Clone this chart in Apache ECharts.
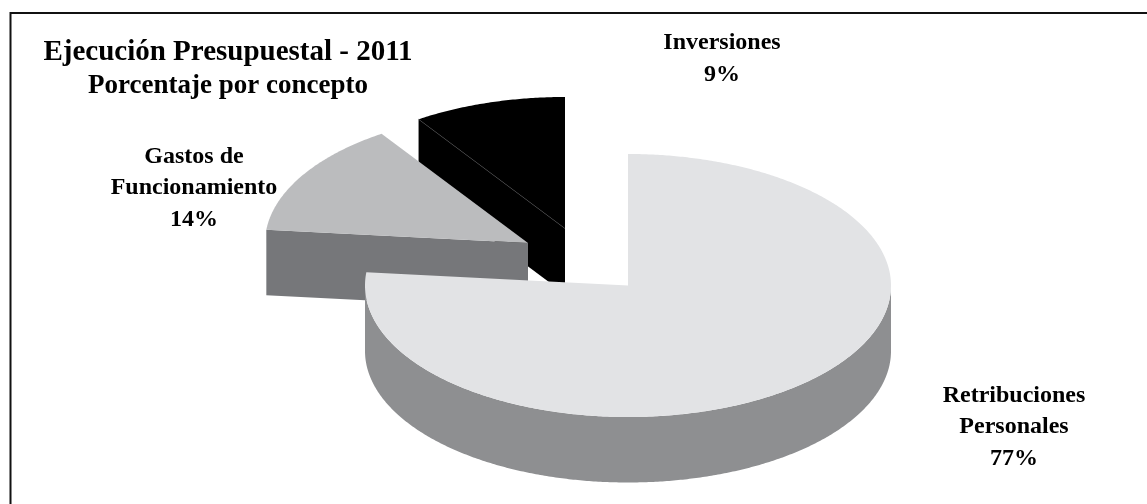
<!DOCTYPE html>
<html style="height: 100%">
<head>
<meta charset="utf-8">
<title>Ejecución Presupuestal - 2011</title>
<script src="https://cdn.jsdelivr.net/npm/echarts@6/dist/echarts.min.js"></script>
</head>
<body style="height: 100%; margin: 0; background: #fff">
<div id="container" style="width: 1147px; height: 504px"></div>
<script>
var chartTitle = 'Ejecución Presupuestal - 2011';
var chartSubtitle = 'Porcentaje por concepto';
var sliceNames = ['Retribuciones\nPersonales', 'Gastos de\nFuncionamiento', 'Inversiones'];
var sliceValues = [76.6, 14, 9.4];

// layout of the tilted pie, kept apart from the data
var rx = 263, ry = 131.5, depth = 65.5;
var apexes = [[628, 285.5], [528, 243], [565, 228.5]];
var labelPos = [[1014, 427], [194, 188], [722, 59]];
var topColors = ['#e2e3e5', '#bbbcbe', '#000000'];
var sideColors = ['#8e8f91', '#76777a', '#000000'];
var fontFamily = '"Liberation Serif", "Times New Roman", serif';

var total = sliceValues.reduce(function (a, b) { return a + b; }, 0);

function rimPoint(apex, deg, dy) {
    var t = deg * Math.PI / 180;
    return [apex[0] + rx * Math.sin(t), apex[1] - ry * Math.cos(t) + (dy || 0)];
}

function arcPoints(apex, from, to, dy) {
    var pts = [];
    var n = Math.max(2, Math.ceil(Math.abs(to - from) * 2));
    for (var i = 0; i <= n; i++) {
        pts.push(rimPoint(apex, from + (to - from) * i / n, dy));
    }
    return pts;
}

function renderSlice(params, api) {
    var idx = params.dataIndex;
    var before = sliceValues.slice(0, idx).reduce(function (a, b) { return a + b; }, 0);
    var start = before / total * 360;
    var end = (before + api.value(0)) / total * 360;
    var apex = apexes[idx];
    var base = (sliceValues.length - idx) * 10;
    var children = [];

    // rim wall, only the part that faces the viewer
    if (start < 270 && end > 90) {
        var from = Math.max(start, 90), to = Math.min(end, 270);
        var wall = arcPoints(apex, from, to, 0).concat(arcPoints(apex, to, from, depth));
        children.push({
            type: 'polygon', z2: base,
            shape: { points: wall },
            style: { fill: sideColors[idx] }
        });
    }
    // cut face that faces the viewer
    if (start > 180) {
        var a = rimPoint(apex, start, 0);
        children.push({
            type: 'polygon', z2: base,
            shape: { points: [apex, a, [a[0], a[1] + depth], [apex[0], apex[1] + depth]] },
            style: { fill: sideColors[idx] }
        });
    }
    // top face
    children.push({
        type: 'polygon', z2: base + 1,
        shape: { points: [apex].concat(arcPoints(apex, start, end, 0)) },
        style: { fill: topColors[idx] }
    });
    // hairline on the black slice, where the top meets the cut face
    if (topColors[idx] === sideColors[idx]) {
        var b = rimPoint(apex, start, 0);
        children.push({
            type: 'line', z2: base + 2,
            shape: { x1: apex[0], y1: apex[1], x2: b[0], y2: b[1] },
            style: { stroke: '#444446', lineWidth: 0.5 }
        });
    }
    children.push({
        type: 'text', z2: 100,
        style: {
            x: labelPos[idx][0], y: labelPos[idx][1],
            text: sliceNames[idx] + '\n' + Math.round(api.value(0)) + '%',
            align: 'center', verticalAlign: 'middle',
            font: 'bold 24px ' + fontFamily, lineHeight: 31.5, fill: '#000'
        }
    });
    return { type: 'group', children: children };
}

var myChart = echarts.init(document.getElementById('container'), null, { renderer: 'canvas' });
var option = {
    animation: false,
    backgroundColor: '#fff',
    title: [
        { text: chartTitle, left: 228, top: 38, padding: 0, textAlign: 'center',
          textStyle: { fontFamily: fontFamily, fontWeight: 'bold', fontSize: 29, color: '#000' } },
        { text: chartSubtitle, left: 228, top: 73, padding: 0, textAlign: 'center',
          textStyle: { fontFamily: fontFamily, fontWeight: 'bold', fontSize: 27, color: '#000' } }
    ],
    // the frame only has a top and a left edge
    graphic: [{
        type: 'polyline', silent: true,
        shape: { points: [[10.5, 504], [10.5, 13], [1147, 13]] },
        style: { fill: 'none', stroke: '#111', lineWidth: 2 }
    }],
    series: [{
        type: 'custom',
        coordinateSystem: 'none',
        silent: true,
        renderItem: renderSlice,
        data: sliceValues.map(function (v) { return [v]; })
    }]
};
myChart.setOption(option);
</script>
</body>
</html>
